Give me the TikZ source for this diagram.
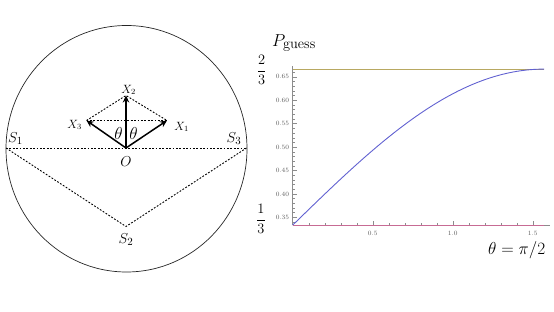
\documentclass[tikz,border=0pt]{standalone}
\usetikzlibrary{arrows.meta}
\definecolor{mblue}{rgb}{0.38,0.38,0.82}
\definecolor{mred}{rgb}{0.78,0.42,0.58}
\definecolor{molive}{rgb}{0.72,0.66,0.38}
\definecolor{axgray}{gray}{0.55}
\definecolor{lblgray}{gray}{0.35}
\begin{document}
\begin{tikzpicture}[x=1pt,y=-1pt,
  vec/.style={line width=1.5pt,-{Stealth[length=7pt,width=6.5pt]}},
  dotline/.style={line width=0.9pt,dash pattern=on 1.8pt off 1.6pt},
  slab/.style={inner sep=0pt,font=\fontsize{15}{15}\selectfont},
  xlab/.style={inner sep=0pt,font=\fontsize{12}{12}\selectfont},
  thlab/.style={inner sep=0pt,font=\fontsize{18}{18}\selectfont},
  ticklab/.style={inner sep=0pt,text=lblgray,font=\fontsize{6.5}{6.5}\selectfont},
  axisline/.style={draw=axgray,line width=0.6pt},
  tickmark/.style={draw=axgray,line width=0.4pt}]
\useasboundingbox (0,0) rectangle (554,312);
% ---------- left diagram ----------
\draw[line width=0.7pt,black!85] (126.5,148.75) ellipse [x radius=120.5, y radius=123.25];
\coordinate (O) at (126,148);
\coordinate (S1) at (6,148);
\coordinate (S3) at (246.5,148);
\coordinate (S2) at (126,226.5);
\coordinate (X1) at (167,120.5);
\coordinate (X2) at (126,95.5);
\coordinate (X3) at (86.5,120.5);
\draw[dotline] (S1) -- (S3);
\draw[dotline] (S1) -- (S2) -- (S3);
\draw[dotline] (X3) -- (X1);
\draw[dotline] (X3) -- (X2) -- (X1);
\draw[vec] (O) -- (X1);
\draw[vec] (O) -- (X2);
\draw[vec] (O) -- (X3);
\node[slab] (s1l) at (15.5,139) {$S_1$};
\node[slab] (s3l) at (234,139) {$S_3$};
\node[slab] (s2l) at (126,240) {$S_2$};
\node[slab] (ol) at (126,161.5) {$O$};
\node[xlab] (x1l) at (181.5,127) {$X_1$};
\node[xlab] (x2l) at (128.5,90) {$X_2$};
\node[xlab] (x3l) at (74.5,125) {$X_3$};
\node[thlab] (th1) at (118.5,133.5) {$\theta$};
\node[thlab] (th2) at (133.5,133.5) {$\theta$};
% ---------- plot ----------
% axes
\draw[axisline] (292.7,225.1) -- (292.7,66.5);
\draw[axisline] (292.7,225.1) -- (549.5,225.1);
% left ticks
\foreach \k in {34,...,66} {
  \draw[tickmark] (292.7,{381.1-4.68*\k}) -- ++(2.2,0);
}
\foreach \k/\t in {35/0.35,40/0.40,45/0.45,50/0.50,55/0.55,60/0.60,65/0.65} {
  \draw[tickmark] (292.7,{381.1-4.68*\k}) -- ++(4.2,0);
  \node[ticklab,anchor=east] (yt\k) at (289.3,{381.1-4.68*\k}) {\t};
}
% bottom ticks
\foreach \k in {1,...,15} {
  \draw[tickmark] ({292.7+16*\k},225.1) -- ++(0,-2.2);
}
\foreach \k/\t in {5/0.5,10/1.0,15/1.5} {
  \draw[tickmark] ({292.7+16*\k},225.1) -- ++(0,-4.2);
  \node[ticklab] (xt\k) at ({292.7+16*\k},233.3) {\t};
}
% curves
\draw[molive,line width=1.1pt] (292.7,69.1) -- (544.0,69.1);
\draw[mred,line width=1.1pt] (292.7,225.1) -- (544.0,225.1);
\draw[mblue,line width=0.9pt] plot[domain=0:1.5708,samples=80,smooth] ({292.7+160*\x},{225.1-156*sin(\x r)});
% labels
\node[inner sep=0pt,font=\fontsize{19}{19}\selectfont] (pg) at (294,43) {$P_{\mathrm{guess}}$};
\node[inner sep=0pt,font=\fontsize{13.5}{13.5}\selectfont] (f23) at (261.7,70) {$\displaystyle\frac{2}{3}$};
\node[inner sep=0pt,font=\fontsize{13.5}{13.5}\selectfont] (f13) at (261,219) {$\displaystyle\frac{1}{3}$};
\node[inner sep=0pt,font=\fontsize{17}{17}\selectfont] (thx) at (516.7,250) {$\theta=\pi/2$};
\end{tikzpicture}
\end{document}
